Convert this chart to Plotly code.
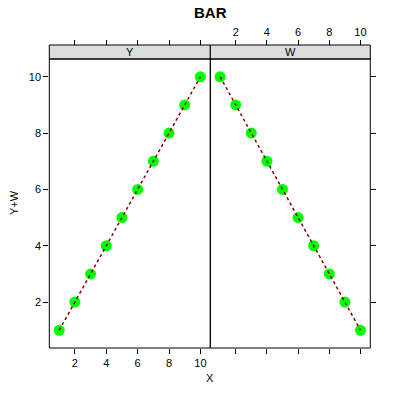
import plotly.graph_objects as go

X = [1, 2, 3, 4, 5, 6, 7, 8, 9, 10]
Y = [1, 2, 3, 4, 5, 6, 7, 8, 9, 10]
W = [10, 9, 8, 7, 6, 5, 4, 3, 2, 1]
panels = ["Y", "W"]
ticks = [2, 4, 6, 8, 10]

W_PX = 400.0
def px(x):
    return x / W_PX
def py(y):
    return 1 - y / W_PX

L, MID, R = 49.3, 210.3, 370.3
TOP, BOT = 59, 348
STRIP_TOP = 45

rng = [0.37, 10.63]
FONT = "Liberation Sans, Arial, sans-serif"

fig = go.Figure()
for i, (name, vals) in enumerate(zip(panels, [Y, W])):
    xa = "x" if i == 0 else "x2"
    fig.add_trace(go.Scatter(x=X, y=vals, xaxis=xa, yaxis="y", mode="markers",
                             marker=dict(color="#00FF00", size=11, line=dict(width=0)),
                             hoverinfo="skip", showlegend=False))
    fig.add_trace(go.Scatter(x=X, y=vals, xaxis=xa, yaxis="y", mode="lines",
                             line=dict(color="#8B0000", width=1.5, dash="3px,3px"),
                             hoverinfo="skip", showlegend=False))

axis_common = dict(range=rng, tickvals=ticks, ticks="outside", ticklen=5, tickwidth=1,
                   tickcolor="black", showgrid=False, zeroline=False, showline=False,
                   tickfont=dict(family=FONT, size=11, color="black"), fixedrange=True)

fig.update_layout(
    width=400, height=400, margin=dict(l=0, r=0, t=0, b=0),
    plot_bgcolor="white", paper_bgcolor="white",
    xaxis=dict(domain=[px(L), px(MID)], anchor="y", showticklabels=True, **axis_common),
    xaxis2=dict(domain=[px(MID), px(R)], anchor="y", showticklabels=False, **axis_common),
    xaxis3=dict(domain=[px(L), px(MID)], overlaying="x", matches="x", side="top", anchor="free",
                position=py(STRIP_TOP), showticklabels=False, **axis_common),
    xaxis4=dict(domain=[px(MID), px(R)], overlaying="x2", matches="x2", side="top", anchor="free",
                position=py(STRIP_TOP), showticklabels=True, **axis_common),
    yaxis=dict(domain=[py(BOT), py(TOP)], anchor="x", showticklabels=True, **axis_common),
    yaxis2=dict(domain=[py(BOT), py(TOP)], anchor="x2", overlaying="y", matches="y", side="right",
                showticklabels=False, **axis_common),
)
fig.add_trace(go.Scatter(x=[None], y=[None], xaxis="x3", yaxis="y", showlegend=False, hoverinfo="skip"))
fig.add_trace(go.Scatter(x=[None], y=[None], xaxis="x4", yaxis="y2", showlegend=False, hoverinfo="skip"))

shapes = []
for x0, x1 in [(L, MID), (MID, R)]:
    shapes.append(dict(type="rect", xref="paper", yref="paper", x0=px(x0), x1=px(x1),
                       y0=py(TOP), y1=py(STRIP_TOP), fillcolor="#DCDEDC",
                       line=dict(color="black", width=1), layer="below"))
    shapes.append(dict(type="rect", xref="paper", yref="paper", x0=px(x0), x1=px(x1),
                       y0=py(BOT), y1=py(TOP), line=dict(color="black", width=1)))
fig.update_layout(shapes=shapes)

def note(text, x, y, size=11, angle=0):
    return dict(text=text, x=px(x), y=py(y), xref="paper", yref="paper", showarrow=False,
                xanchor="center", yanchor="middle", textangle=angle,
                font=dict(family=FONT, size=size, color="black"))

ann = []
for x0, x1, lab in [(L, MID, panels[0]), (MID, R, panels[1])]:
    ann.append(note(lab, (x0 + x1) / 2, (TOP + STRIP_TOP) / 2 + 0.5))
ann.append(note("<b>BAR</b>", 210, 12, size=15))
ann.append(note("X", 210, 378))
ann.append(note("Y+W", 14, 203, angle=-90))
fig.update_layout(annotations=ann)

fig.write_html("out.html", config={"displayModeBar": False},
               post_script="document.body.style.margin='0';document.body.style.padding='0';")
